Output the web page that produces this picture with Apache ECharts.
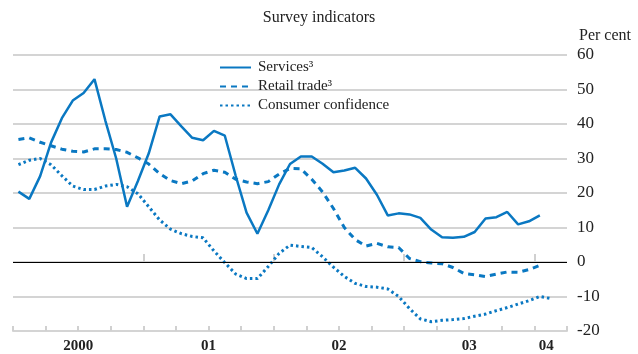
<!DOCTYPE html>
<html><head><meta charset="utf-8">
<script src="https://cdn.jsdelivr.net/npm/echarts@6/dist/echarts.min.js"></script>
<style>html,body{margin:0;padding:0;background:#fff}#c{width:638px;height:354px}</style>
</head><body><div id="c"></div>
<script>
// Monthly observations, Jan 2000 onwards (index 0 = Jan 2000)
const services = [20.4,18.3,24.9,34.6,41.7,46.8,49.0,53.0,41,30,16,23.5,31.5,42.2,42.8,39.3,36,35.3,38,36.6,25,14.3,8.2,15,22.5,28.4,30.6,30.6,28.5,26,26.5,27.3,24.2,19.5,13.5,14.1,13.8,12.8,9.4,7.2,7.0,7.3,8.7,12.6,13.0,14.5,10.9,11.8,13.5];
const retail = [35.5,36,34.7,33.7,32.7,32.1,31.9,32.8,32.8,32.6,31.8,30.2,28.4,25.6,23.6,22.7,23.5,25.6,26.6,26,24,23.2,22.7,23.3,25.5,27.1,27,24,20.3,15.5,10,6.5,4.6,5.4,4.4,4.2,1.0,0.1,-0.3,-0.5,-1.6,-3.3,-3.7,-4.2,-3.5,-2.9,-3.0,-2.2,-1.0];
const consumer = [28.2,29.5,30,28.2,25,22,21,21,22,22.5,21.8,19.8,16,12.2,9.5,8.2,7.4,7.0,3.2,-0.2,-3.5,-4.8,-4.8,-1.3,2.5,4.9,4.5,4.2,1.5,-1.5,-4.2,-6.2,-7.1,-7.3,-7.8,-10,-13.5,-16.5,-17.3,-16.9,-16.7,-16.4,-15.7,-15.1,-14.1,-13.2,-12.2,-11.2,-10.0,-10.6];
const yearLabels = ['2000','01','02','03','04'];
const yearLabelPos = [6,18,30,42,49.1];
const seriesNames = ['Services\u00B3','Retail trade\u00B3','Consumer confidence'];
const yTicks = {min:-20,max:60,interval:10};

const toXY = arr => arr.map((v,i)=>[i+0.5,v]);
const blue = '#0a78c2';
const serif = 'Liberation Serif';
const quarterTicks = []; for (let q=0;q<=51;q+=3) quarterTicks.push(q);

const chart = echarts.init(document.getElementById('c'));
chart.setOption({
  animation:false,
  title:[
    {text:'Survey indicators',left:'center',top:5,textStyle:{fontFamily:serif,fontSize:16,fontWeight:'normal',color:'#222'}},
    {text:'Per cent',left:574,top:23,textStyle:{fontFamily:serif,fontSize:16,fontWeight:'normal',color:'#222'}}
  ],
  legend:{orient:'vertical',left:214,top:55,itemWidth:31,itemHeight:14,itemGap:4,
    itemStyle:{opacity:0},
    textStyle:{fontFamily:serif,fontSize:15,color:'#222',padding:[0,0,0,2]},
    data:seriesNames},
  grid:{left:13,right:71,top:55,bottom:22},
  xAxis:[{
    type:'value',min:0,max:51,interval:3,
    axisLine:{show:true,onZero:false,lineStyle:{color:'#d4d4d4',width:2}},
    axisTick:{show:true,inside:true,length:5,customValues:quarterTicks,lineStyle:{color:'#d0d0d0',width:2}},
    axisLabel:{show:true,customValues:yearLabelPos,margin:8,
      formatter:v=>{const k=yearLabelPos.indexOf(v);return k>=0?yearLabels[k]:'';},
      fontFamily:serif,fontWeight:'bold',fontSize:15,color:'#222'},
    splitLine:{show:false}
  },{
    type:'value',min:0,max:51,position:'bottom',
    axisLine:{show:false},
    axisTick:{show:true,inside:true,length:8,customValues:[12,24,36,48],lineStyle:{color:'#d0d0d0',width:2}},
    axisLabel:{show:false},splitLine:{show:false}
  }],
  yAxis:{type:'value',position:'right',min:yTicks.min,max:yTicks.max,interval:yTicks.interval,
    axisLine:{show:false},axisTick:{show:false},
    axisLabel:{margin:10,fontFamily:serif,fontSize:17,color:'#222',align:'left'},
    splitLine:{lineStyle:{color:'#d4d4d4',width:2}}
  },
  series:[
    {name:seriesNames[0],type:'line',data:toXY(services),symbol:'none',z:5,
     lineStyle:{color:blue,width:2.5},itemStyle:{color:blue},
     markLine:{silent:true,symbol:'none',label:{show:false},lineStyle:{color:'#000',width:1,type:'solid'},data:[{yAxis:0}]}},
    {name:seriesNames[1],type:'line',data:toXY(retail),symbol:'none',
     lineStyle:{color:blue,width:3,type:[6,5]},itemStyle:{color:blue}},
    {name:seriesNames[2],type:'line',data:toXY(consumer),symbol:'none',
     lineStyle:{color:blue,width:3,type:[2.5,3]},itemStyle:{color:blue}}
  ]
});
</script></body></html>
